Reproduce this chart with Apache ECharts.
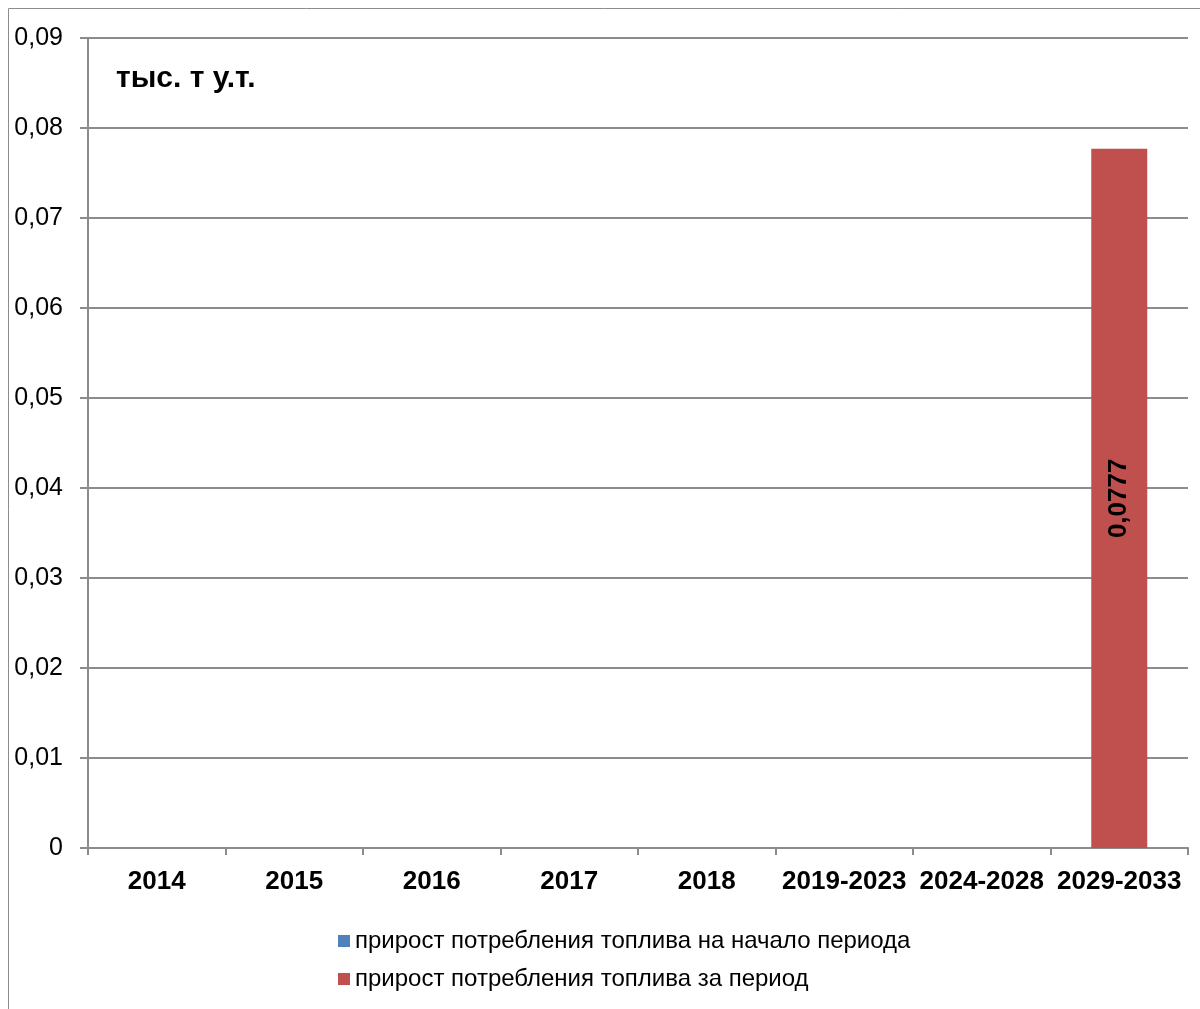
<!DOCTYPE html>
<html>
<head>
<meta charset="utf-8">
<script src="https://cdn.jsdelivr.net/npm/echarts@6/dist/echarts.min.js"></script>
<style>
  html, body { margin: 0; padding: 0; background: #fff; }
  #chart { width: 1200px; height: 1009px; }
</style>
</head>
<body>
<div id="chart"></div>
<script>
// Periods on the category axis
const periods = ['2014', '2015', '2016', '2017', '2018', '2019-2023', '2024-2028', '2029-2033'];
// Fuel consumption growth, thousand t.c.e.
const growthAtStart = [0, 0, 0, 0, 0, 0, 0, 0];
const growthForPeriod = [0, 0, 0, 0, 0, 0, 0, 0.0777];
const seriesNames = [
  'прирост потребления топлива на начало периода',
  'прирост потребления топлива за период'
];
const unitLabel = 'тыс. т у.т.';

const fontFamily = '"Liberation Sans", Arial, sans-serif';
const fmt = v => String(v).replace('.', ',');

const chart = echarts.init(document.getElementById('chart'), null, { renderer: 'canvas' });

chart.setOption({
  animation: false,
  backgroundColor: '#ffffff',
  textStyle: { fontFamily: fontFamily },
  graphic: [
    {
      type: 'rect',
      shape: { x: 8.5, y: 8.5, width: 1300, height: 1100 },
      style: { fill: 'none', stroke: '#8c8c8c', lineWidth: 1 }
    },
    {
      type: 'text',
      left: 116,
      top: 64,
      style: { text: unitLabel, font: 'bold 30px ' + fontFamily, fill: '#000' }
    }
  ],
  legend: {
    orient: 'vertical',
    left: 333,
    top: 924,
    itemWidth: 12,
    itemHeight: 12,
    itemGap: 14,
    icon: 'rect',
    textStyle: { fontSize: 24, color: '#000', fontFamily: fontFamily },
    data: seriesNames
  },
  grid: { left: 88, right: 12, top: 38, bottom: 161, containLabel: false },
  xAxis: {
    type: 'category',
    data: periods,
    axisLine: { lineStyle: { color: '#8c8c8c', width: 2 } },
    axisTick: { show: true, length: 7, alignWithLabel: false, lineStyle: { color: '#8c8c8c', width: 2 } },
    axisLabel: { fontSize: 26, fontWeight: 'bold', color: '#000', margin: 21, interval: 0 }
  },
  yAxis: {
    type: 'value',
    min: 0,
    max: 0.09,
    interval: 0.01,
    axisLine: { show: true, lineStyle: { color: '#8c8c8c', width: 2 } },
    axisTick: { show: true, length: 8, lineStyle: { color: '#8c8c8c', width: 2 } },
    splitLine: { show: true, lineStyle: { color: '#8c8c8c', width: 2 } },
    axisLabel: {
      fontSize: 25,
      color: '#000',
      margin: 25,
      formatter: v => fmt(Math.round(v * 100) / 100)
    }
  },
  series: [
    {
      name: seriesNames[0],
      type: 'bar',
      data: growthAtStart,
      barWidth: 56,
      barGap: '-100%',
      itemStyle: { color: '#4F81BD' }
    },
    {
      name: seriesNames[1],
      type: 'bar',
      data: growthForPeriod,
      barWidth: 56,
      itemStyle: { color: '#C0504D' },
      label: {
        show: true,
        position: 'inside',
        rotate: 90,
        fontSize: 26,
        fontWeight: 'bold',
        color: '#000',
        formatter: p => (p.value > 0 ? fmt(p.value) : '')
      }
    }
  ]
});
</script>
</body>
</html>
